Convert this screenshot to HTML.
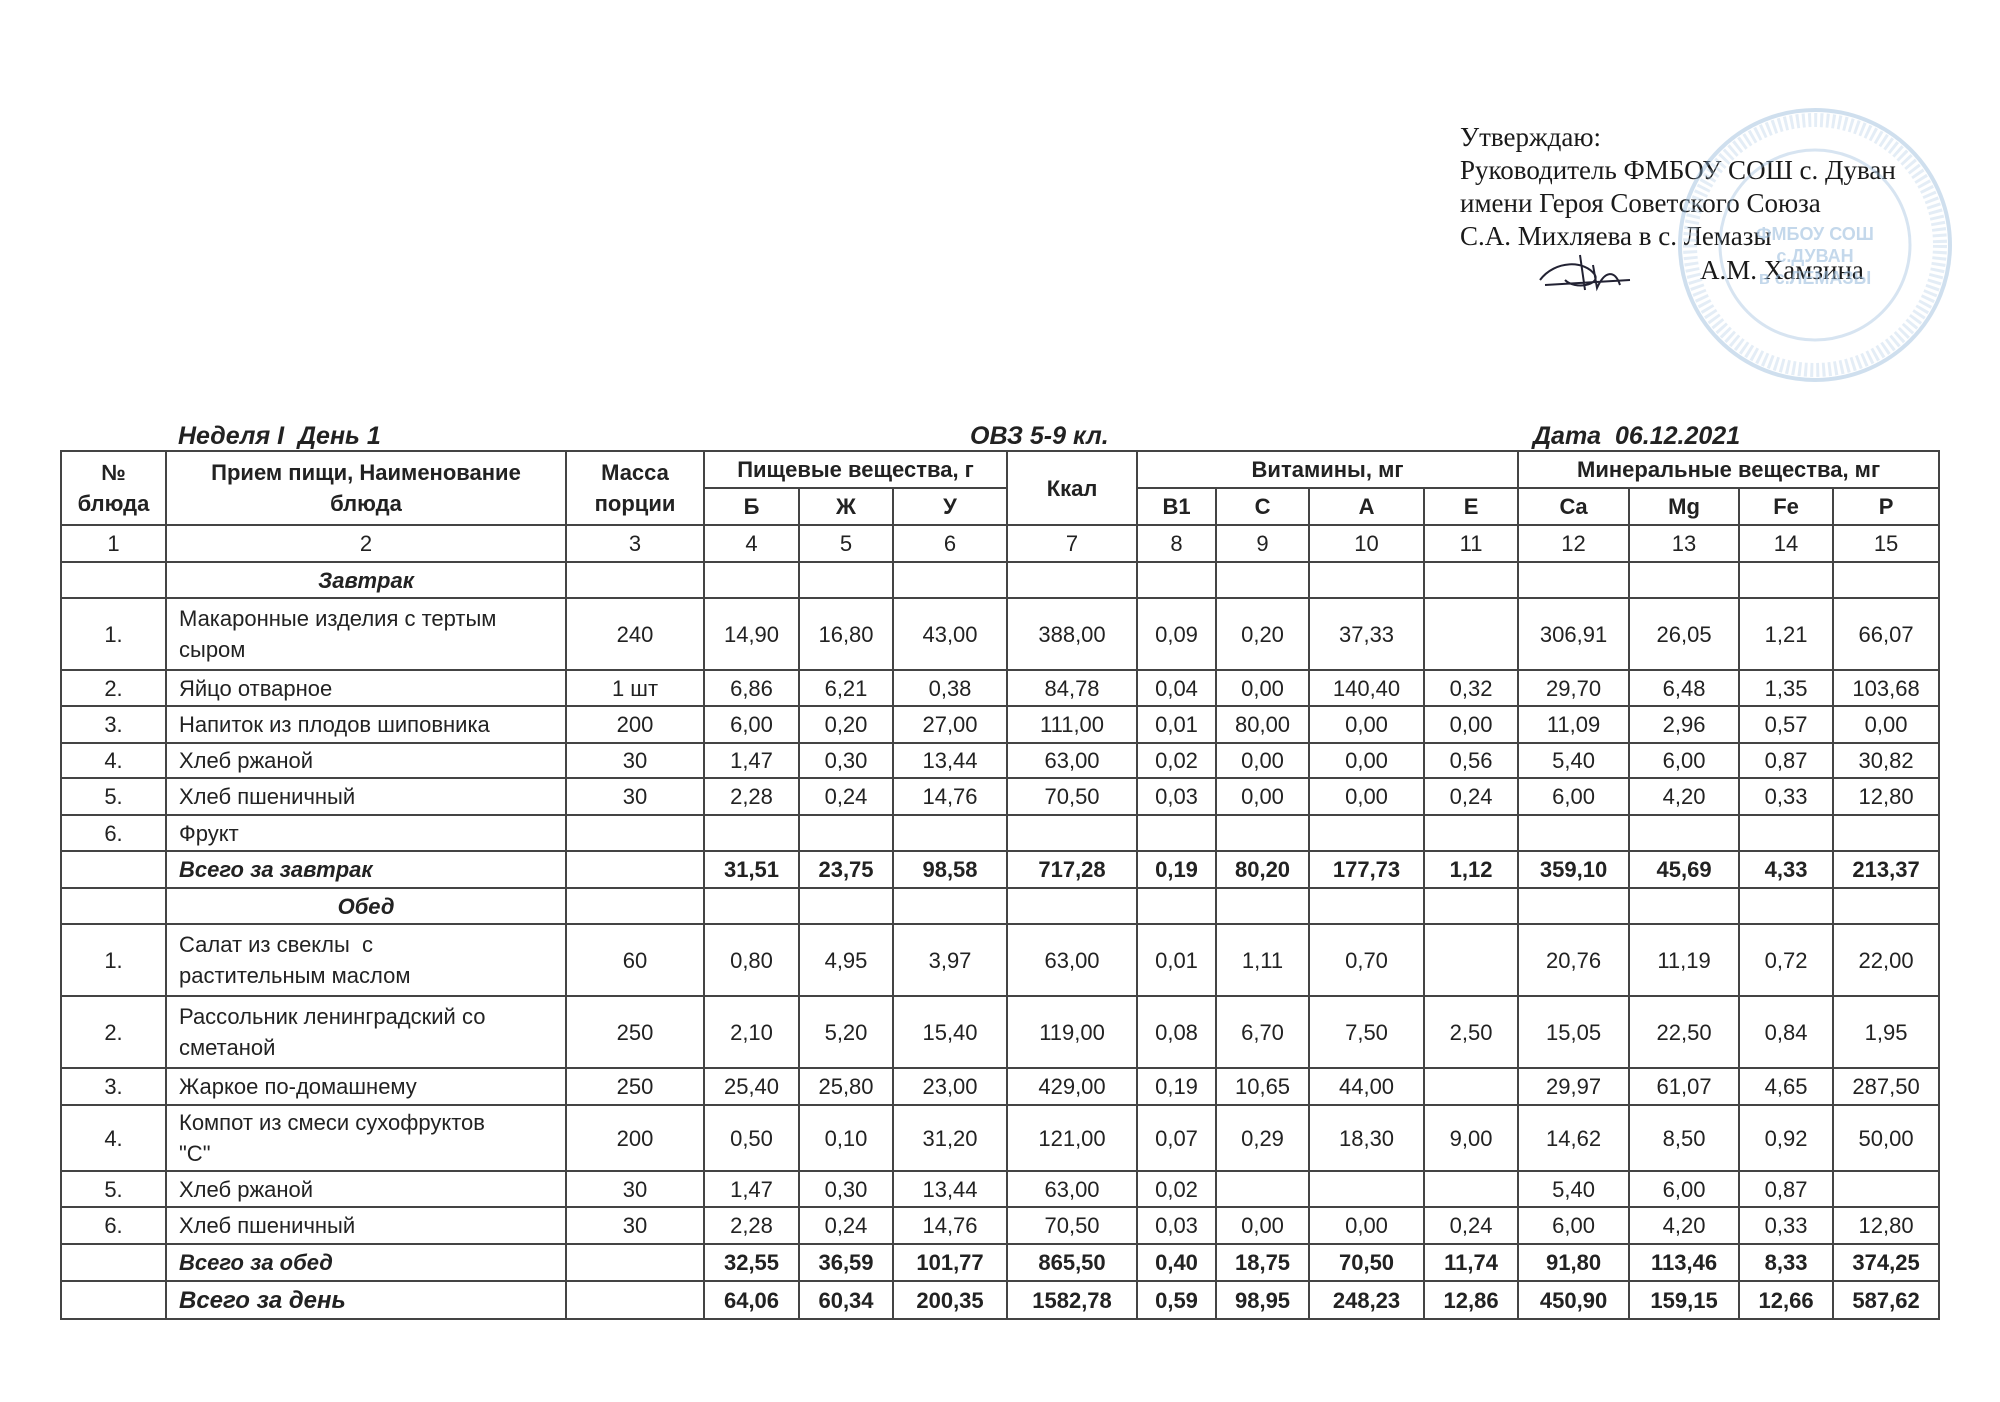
<!DOCTYPE html>
<html><head><meta charset="utf-8"><style>
html,body{margin:0;padding:0;background:#fff;}
body{width:2000px;height:1402px;position:relative;overflow:hidden;font-family:"Liberation Sans",sans-serif;color:#222;}
.ap{position:absolute;white-space:nowrap;}
.srf{font-family:"Liberation Serif",serif;font-size:27px;color:#1a1a1a;}
.ttl{font-family:"Liberation Sans",sans-serif;font-weight:bold;font-style:italic;font-size:25px;color:#222;}
table{position:absolute;left:60px;top:450px;border-collapse:collapse;table-layout:fixed;width:1878px;}
td{border:2px solid #444;text-align:center;vertical-align:middle;font-size:22px;padding:0 2px;line-height:31px;overflow:hidden;white-space:nowrap;}
td.n{text-align:left;padding-left:12px;}
.b td{font-weight:bold;}
.bi{font-weight:bold;font-style:italic;}
.h td{font-weight:bold;}
</style></head><body>
<div class="ap srf" style="left:1460px;top:122px;">Утверждаю:</div>
<div class="ap srf" style="left:1460px;top:155px;">Руководитель ФМБОУ СОШ с. Дуван</div>
<div class="ap srf" style="left:1460px;top:188px;">имени Героя Советского Союза</div>
<div class="ap srf" style="left:1460px;top:221px;">С.А. Михляева в с. Лемазы</div>
<div class="ap srf" style="left:1700px;top:255px;">А.М. Хамзина</div>
<svg class="ap" style="left:1670px;top:100px;opacity:0.6" width="290" height="290">
<circle cx="145" cy="145" r="135" fill="none" stroke="#8fb5d8" stroke-width="4" opacity="0.7"/>
<circle cx="145" cy="145" r="95" fill="none" stroke="#8fb5d8" stroke-width="3" opacity="0.6"/>
<circle cx="145" cy="145" r="125" fill="none" stroke="#b5cfe6" stroke-width="14" stroke-dasharray="3 3" opacity="0.6"/>
<text x="145" y="140" text-anchor="middle" font-family="Liberation Sans" font-weight="bold" font-size="18" fill="#9dbfdf">ФМБОУ СОШ</text>
<text x="145" y="162" text-anchor="middle" font-family="Liberation Sans" font-weight="bold" font-size="18" fill="#9dbfdf">с.ДУВАН</text>
<text x="145" y="184" text-anchor="middle" font-family="Liberation Sans" font-weight="bold" font-size="18" fill="#9dbfdf">в с.ЛЕМАЗЫ</text>
</svg>
<svg class="ap" style="left:1535px;top:250px;" width="100" height="45"><path d="M5 30 C20 10 50 10 60 25 C65 35 40 40 30 30 M45 5 L50 40 M58 15 L62 38 C70 20 80 20 85 35 M10 35 L95 30" fill="none" stroke="#223" stroke-width="2"/></svg>
<div class="ap ttl" style="left:178px;top:422px;">Неделя I&nbsp; День 1</div>
<div class="ap ttl" style="left:970px;top:422px;">ОВЗ 5-9 кл.</div>
<div class="ap ttl" style="left:1533px;top:422px;">Дата&nbsp; 06.12.2021</div>
<table>
<colgroup><col style="width:105px"><col style="width:400px"><col style="width:138px"><col style="width:95px"><col style="width:94px"><col style="width:114px"><col style="width:130px"><col style="width:79px"><col style="width:93px"><col style="width:115px"><col style="width:94px"><col style="width:111px"><col style="width:110px"><col style="width:94px"><col style="width:106px"></colgroup>
<tr class="h" style="height:37px"><td rowspan="2">№<br>блюда</td><td rowspan="2">Прием пищи, Наименование<br>блюда</td><td rowspan="2">Масса<br>порции</td><td colspan="3">Пищевые вещества, г</td><td rowspan="2">Ккал</td><td colspan="4">Витамины, мг</td><td colspan="4">Минеральные вещества, мг</td></tr>
<tr class="h" style="height:37px"><td>Б</td><td>Ж</td><td>У</td><td>B1</td><td>C</td><td>A</td><td>E</td><td>Ca</td><td>Mg</td><td>Fe</td><td>P</td></tr>
<tr style="height:37px"><td>1</td><td>2</td><td>3</td><td>4</td><td>5</td><td>6</td><td>7</td><td>8</td><td>9</td><td>10</td><td>11</td><td>12</td><td>13</td><td>14</td><td>15</td></tr>
<tr style="height:36px"><td></td><td class="bi">Завтрак</td><td></td><td></td><td></td><td></td><td></td><td></td><td></td><td></td><td></td><td></td><td></td><td></td><td></td></tr>
<tr style="height:72px"><td>1.</td><td class="n">Макаронные изделия с тертым<br>сыром</td><td>240</td><td>14,90</td><td>16,80</td><td>43,00</td><td>388,00</td><td>0,09</td><td>0,20</td><td>37,33</td><td></td><td>306,91</td><td>26,05</td><td>1,21</td><td>66,07</td></tr>
<tr style="height:36px"><td>2.</td><td class="n">Яйцо отварное</td><td>1 шт</td><td>6,86</td><td>6,21</td><td>0,38</td><td>84,78</td><td>0,04</td><td>0,00</td><td>140,40</td><td>0,32</td><td>29,70</td><td>6,48</td><td>1,35</td><td>103,68</td></tr>
<tr style="height:37px"><td>3.</td><td class="n">Напиток из плодов шиповника</td><td>200</td><td>6,00</td><td>0,20</td><td>27,00</td><td>111,00</td><td>0,01</td><td>80,00</td><td>0,00</td><td>0,00</td><td>11,09</td><td>2,96</td><td>0,57</td><td>0,00</td></tr>
<tr style="height:35px"><td>4.</td><td class="n">Хлеб ржаной</td><td>30</td><td>1,47</td><td>0,30</td><td>13,44</td><td>63,00</td><td>0,02</td><td>0,00</td><td>0,00</td><td>0,56</td><td>5,40</td><td>6,00</td><td>0,87</td><td>30,82</td></tr>
<tr style="height:37px"><td>5.</td><td class="n">Хлеб пшеничный</td><td>30</td><td>2,28</td><td>0,24</td><td>14,76</td><td>70,50</td><td>0,03</td><td>0,00</td><td>0,00</td><td>0,24</td><td>6,00</td><td>4,20</td><td>0,33</td><td>12,80</td></tr>
<tr style="height:36px"><td>6.</td><td class="n">Фрукт</td><td></td><td></td><td></td><td></td><td></td><td></td><td></td><td></td><td></td><td></td><td></td><td></td><td></td></tr>
<tr class="b" style="height:37px"><td></td><td class="n bi">Всего за завтрак</td><td></td><td>31,51</td><td>23,75</td><td>98,58</td><td>717,28</td><td>0,19</td><td>80,20</td><td>177,73</td><td>1,12</td><td>359,10</td><td>45,69</td><td>4,33</td><td>213,37</td></tr>
<tr style="height:36px"><td></td><td class="bi">Обед</td><td></td><td></td><td></td><td></td><td></td><td></td><td></td><td></td><td></td><td></td><td></td><td></td><td></td></tr>
<tr style="height:72px"><td>1.</td><td class="n">Салат из свеклы&nbsp; с<br>растительным маслом</td><td>60</td><td>0,80</td><td>4,95</td><td>3,97</td><td>63,00</td><td>0,01</td><td>1,11</td><td>0,70</td><td></td><td>20,76</td><td>11,19</td><td>0,72</td><td>22,00</td></tr>
<tr style="height:72px"><td>2.</td><td class="n">Рассольник ленинградский со<br>сметаной</td><td>250</td><td>2,10</td><td>5,20</td><td>15,40</td><td>119,00</td><td>0,08</td><td>6,70</td><td>7,50</td><td>2,50</td><td>15,05</td><td>22,50</td><td>0,84</td><td>1,95</td></tr>
<tr style="height:37px"><td>3.</td><td class="n">Жаркое по-домашнему</td><td>250</td><td>25,40</td><td>25,80</td><td>23,00</td><td>429,00</td><td>0,19</td><td>10,65</td><td>44,00</td><td></td><td>29,97</td><td>61,07</td><td>4,65</td><td>287,50</td></tr>
<tr style="height:66px"><td>4.</td><td class="n">Компот из смеси сухофруктов<br>"С"</td><td>200</td><td>0,50</td><td>0,10</td><td>31,20</td><td>121,00</td><td>0,07</td><td>0,29</td><td>18,30</td><td>9,00</td><td>14,62</td><td>8,50</td><td>0,92</td><td>50,00</td></tr>
<tr style="height:36px"><td>5.</td><td class="n">Хлеб ржаной</td><td>30</td><td>1,47</td><td>0,30</td><td>13,44</td><td>63,00</td><td>0,02</td><td></td><td></td><td></td><td>5,40</td><td>6,00</td><td>0,87</td><td></td></tr>
<tr style="height:37px"><td>6.</td><td class="n">Хлеб пшеничный</td><td>30</td><td>2,28</td><td>0,24</td><td>14,76</td><td>70,50</td><td>0,03</td><td>0,00</td><td>0,00</td><td>0,24</td><td>6,00</td><td>4,20</td><td>0,33</td><td>12,80</td></tr>
<tr class="b" style="height:37px"><td></td><td class="n bi">Всего за обед</td><td></td><td>32,55</td><td>36,59</td><td>101,77</td><td>865,50</td><td>0,40</td><td>18,75</td><td>70,50</td><td>11,74</td><td>91,80</td><td>113,46</td><td>8,33</td><td>374,25</td></tr>
<tr class="b" style="height:38px"><td></td><td class="n bi" style="font-size:24px">Всего за день</td><td></td><td>64,06</td><td>60,34</td><td>200,35</td><td>1582,78</td><td>0,59</td><td>98,95</td><td>248,23</td><td>12,86</td><td>450,90</td><td>159,15</td><td>12,66</td><td>587,62</td></tr>
</table>
</body></html>
